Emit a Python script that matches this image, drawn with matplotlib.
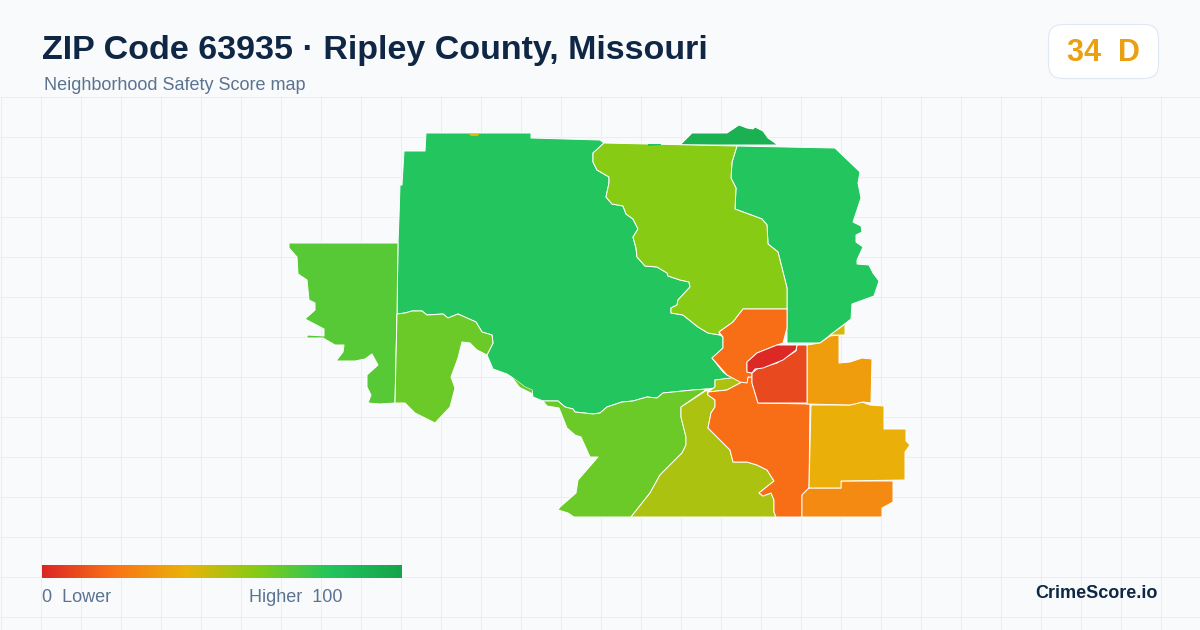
import numpy as np
import matplotlib
matplotlib.use("Agg")
import matplotlib.pyplot as plt
from matplotlib.colors import LinearSegmentedColormap, Normalize
from matplotlib.patches import Polygon, FancyBboxPatch

plt.rcParams['font.family'] = ['Liberation Sans', 'DejaVu Sans']

TITLE = "ZIP Code 63935 · Ripley County, Missouri"
SUBTITLE = "Neighborhood Safety Score map"
GRADE = "34  D"
BRAND = "CrimeScore.io"
LOW_LABEL = "0  Lower"
HIGH_LABEL = "Higher  100"

stop_pos = [0, 0.2, 0.4, 0.6, 0.8, 1.0]
stop_colors = ["#dc2626", "#f97316", "#eab308", "#84cc16", "#22c55e", "#16a34a"]

main_green = [(426,133),(531,133),(531,138),(600,140),(604,143),(593,153),(593,162),(597,170),(609,177),(609,183),(606,197),(612,204),(623,206),(626,214),(633,219),(638,229),(633,237),(636,248),(637,257),(645,266),(657,267),(667,273),(668,276),(680,280),(689,282),(690,287),(678,300),(677,305),(671,308),(671,313),(683,315),(698,327),(708,333),(720,335),(723,337),(723,348),(712,358),(723,372),(727,375),(738,378),(715,380),(715,388),(707,389),(693,390),(663,393),(657,398),(647,397),(633,401),(622,402),(607,407),(600,413),(593,414),(575,412),(573,409),(565,407),(558,401),(543,401),(533,397),(532,390),(525,387),(513,378),(507,374),(493,369),(487,355),(493,343),(492,335),(482,332),(476,322),(458,314),(448,318),(443,314),(427,315),(422,311),(412,311),(405,313),(397,314),(398,243),(399,217),(400,185),(402,185),(404,151),(425,151)]
north_cap = [(680,145),(692,133),(727,133),(739,125),(747,128),(753,129),(755,127),(763,131),(768,138),(778,145)]
top_sliver_a = [(469,134),(479,134),(478,136),(471,136)]
top_sliver_b = [(648,144),(661,144),(661,145),(648,146)]
north_east = [(737,146),(835,148),(860,172),(858,183),(861,198),(853,222),(861,226),(862,232),(856,235),(856,242),(863,247),(857,260),(857,264),(869,265),(873,273),(879,281),(874,296),(852,304),(851,319),(820,343),(787,343),(787,328),(787,288),(778,252),(768,244),(767,225),(762,219),(735,209),(736,188),(731,178),(732,162)]
north_mid = [(604,143),(737,146),(732,162),(731,178),(736,188),(735,209),(762,219),(767,225),(768,244),(778,252),(787,288),(787,309),(743,309),(733,322),(719,332),(720,335),(708,333),(698,327),(683,315),(671,313),(671,308),(677,305),(678,300),(690,287),(689,282),(680,280),(668,276),(667,273),(657,267),(645,266),(637,257),(636,248),(633,237),(638,229),(633,219),(626,214),(623,206),(612,204),(606,197),(609,183),(609,177),(597,170),(593,162),(593,153)]
center_orange = [(743,309),(787,309),(787,328),(783,343),(777,345),(757,353),(747,362),(747,372),(752,373),(752,377),(748,377),(747,383),(740,382),(727,375),(712,358),(723,348),(723,337),(719,332),(733,322)]
center_red = [(747,362),(757,353),(777,345),(797,345),(796,350),(783,360),(763,368),(755,369),(752,373),(747,372)]
red_orange = [(797,345),(807,345),(807,403),(758,403),(752,383),(752,373),(757,369),(777,363),(796,351)]
amber = [(807,345),(820,343),(830,336),(839,335),(839,363),(850,362),(862,358),(872,359),(871,403),(863,402),(850,405),(807,404)]
small_yellow = [(830,335),(848,322),(845,326),(845,335)]
east_yellow = [(811,405),(850,405),(862,402),(870,405),(884,406),(884,429),(906,429),(906,441),(910,445),(905,452),(905,480),(841,481),(841,488),(809,488)]
south_orange = [(809,488),(841,488),(841,481),(893,481),(893,502),(882,508),(882,517),(802,517),(802,495)]
big_orange = [(708,392),(727,390),(742,382),(747,382),(748,377),(752,377),(752,383),(758,403),(810,404),(809,488),(802,495),(802,517),(776,517),(774,512),(774,500),(771,493),(763,496),(759,493),(774,481),(767,470),(757,465),(747,462),(733,462),(730,450),(720,440),(708,428),(711,413),(715,407),(715,400),(708,395)]
olive = [(707,390),(708,395),(715,400),(715,407),(711,413),(708,428),(720,440),(730,450),(733,462),(747,462),(757,465),(767,470),(774,481),(759,493),(763,496),(771,493),(774,500),(774,512),(776,517),(631,517),(650,493),(660,475),(682,453),(686,445),(686,437),(681,417),(681,407)]
olive_small = [(715,380),(738,377),(742,382),(727,390),(708,392),(715,387)]
south_green = [(543,401),(558,401),(565,407),(573,409),(575,412),(593,414),(600,413),(607,407),(622,402),(633,401),(647,397),(657,398),(663,393),(693,390),(707,389),(681,407),(681,417),(686,437),(686,445),(682,453),(660,475),(650,493),(631,517),(574,517),(568,513),(558,510),(560,507),(576,493),(578,480),(598,457),(590,457),(581,437),(575,435),(567,428),(559,408),(547,406)]
river_sliver = [(513,378),(525,387),(532,390),(532,393),(520,387)]
west_green = [(289,243),(398,243),(397,313),(395,403),(380,404),(368,403),(371,395),(367,387),(367,375),(378,365),(372,354),(365,359),(355,361),(336,361),(343,352),(344,345),(335,345),(323,338),(306,338),(308,335),(324,336),(324,329),(305,319),(315,310),(315,303),(309,300),(307,280),(298,274),(297,257),(289,248)]
southwest_green = [(397,314),(405,313),(412,311),(422,311),(427,315),(443,314),(448,318),(458,314),(476,322),(482,332),(492,335),(493,343),(487,355),(477,350),(470,343),(462,342),(458,358),(451,377),(455,388),(450,407),(435,423),(423,417),(415,413),(405,403),(395,403)]

areas = [
    (main_green, 80), (north_cap, 92), (north_east, 80), (north_mid, 59),
    (west_green, 69), (southwest_green, 65), (south_green, 65), (olive, 52),
    (olive_small, 52), (big_orange, 19), (center_orange, 19), (south_orange, 27),
    (east_yellow, 39), (amber, 33), (small_yellow, 44), (red_orange, 9), (center_red, 1),
]
slivers = [(top_sliver_a, 40), (top_sliver_b, 82), (river_sliver, 65)]

W, H = 1200, 630
fig = plt.figure(figsize=(W/100, H/100), dpi=100, facecolor="#f8fafc")
ax = fig.add_axes([0, 0, 1, 1])
ax.set_xlim(0, W)
ax.set_ylim(H, 0)
ax.axis("off")

# Background grid below the header
grid_col = "#e8eef3"
for x in range(0, W + 1, 40):
    ax.plot([x + 0.5, x + 0.5], [96, H], color=grid_col, lw=0.72, zorder=1, solid_capstyle="butt")
for y in range(96, H + 1, 40):
    ax.plot([0, W], [y + 0.5, y + 0.5], color=grid_col, lw=0.72, zorder=1, solid_capstyle="butt")

cmap = LinearSegmentedColormap.from_list("safety", list(zip(stop_pos, stop_colors)))
norm = Normalize(0, 100)

for pts, score in areas:
    ax.add_patch(Polygon(pts, closed=True, facecolor=cmap(norm(score)), edgecolor="white",
                         lw=0.7, joinstyle="round", zorder=3))
for pts, score in slivers:
    ax.add_patch(Polygon(pts, closed=True, facecolor=cmap(norm(score)), edgecolor="none", zorder=4))

# Legend bar
grad = np.linspace(0, 1, 512).reshape(1, -1)
ax.imshow(grad, extent=(42, 402, 578, 565), cmap=cmap, vmin=0, vmax=1, aspect="auto", zorder=3)
ax.set_xlim(0, W)
ax.set_ylim(H, 0)

ax.text(42, 50, TITLE, fontsize=24.5, fontweight="bold", color="#0f2744", va="center", ha="left", zorder=5)
ax.text(44, 86, SUBTITLE, fontsize=13, color="#5b7390", va="center", ha="left", zorder=5)
ax.text(42, 597.5, LOW_LABEL, fontsize=13, color="#5b7390", va="center", ha="left", zorder=5)
ax.text(249, 597.5, HIGH_LABEL, fontsize=13, color="#5b7390", va="center", ha="left", zorder=5)
ax.text(1158, 594, BRAND, fontsize=13, fontweight="bold", color="#0f2744", va="center", ha="right", zorder=5)

ax.add_patch(FancyBboxPatch((1048.5, 24.5), 110, 54, boxstyle="round,pad=0,rounding_size=14",
                            fc="white", ec="#e2e8f0", lw=0.8, zorder=4, mutation_aspect=1))
ax.text(1103, 53, GRADE, fontsize=22, fontweight="bold", color="#eaa010", va="center", ha="center", zorder=5)

fig.savefig("out.png", dpi=100, facecolor=fig.get_facecolor())
